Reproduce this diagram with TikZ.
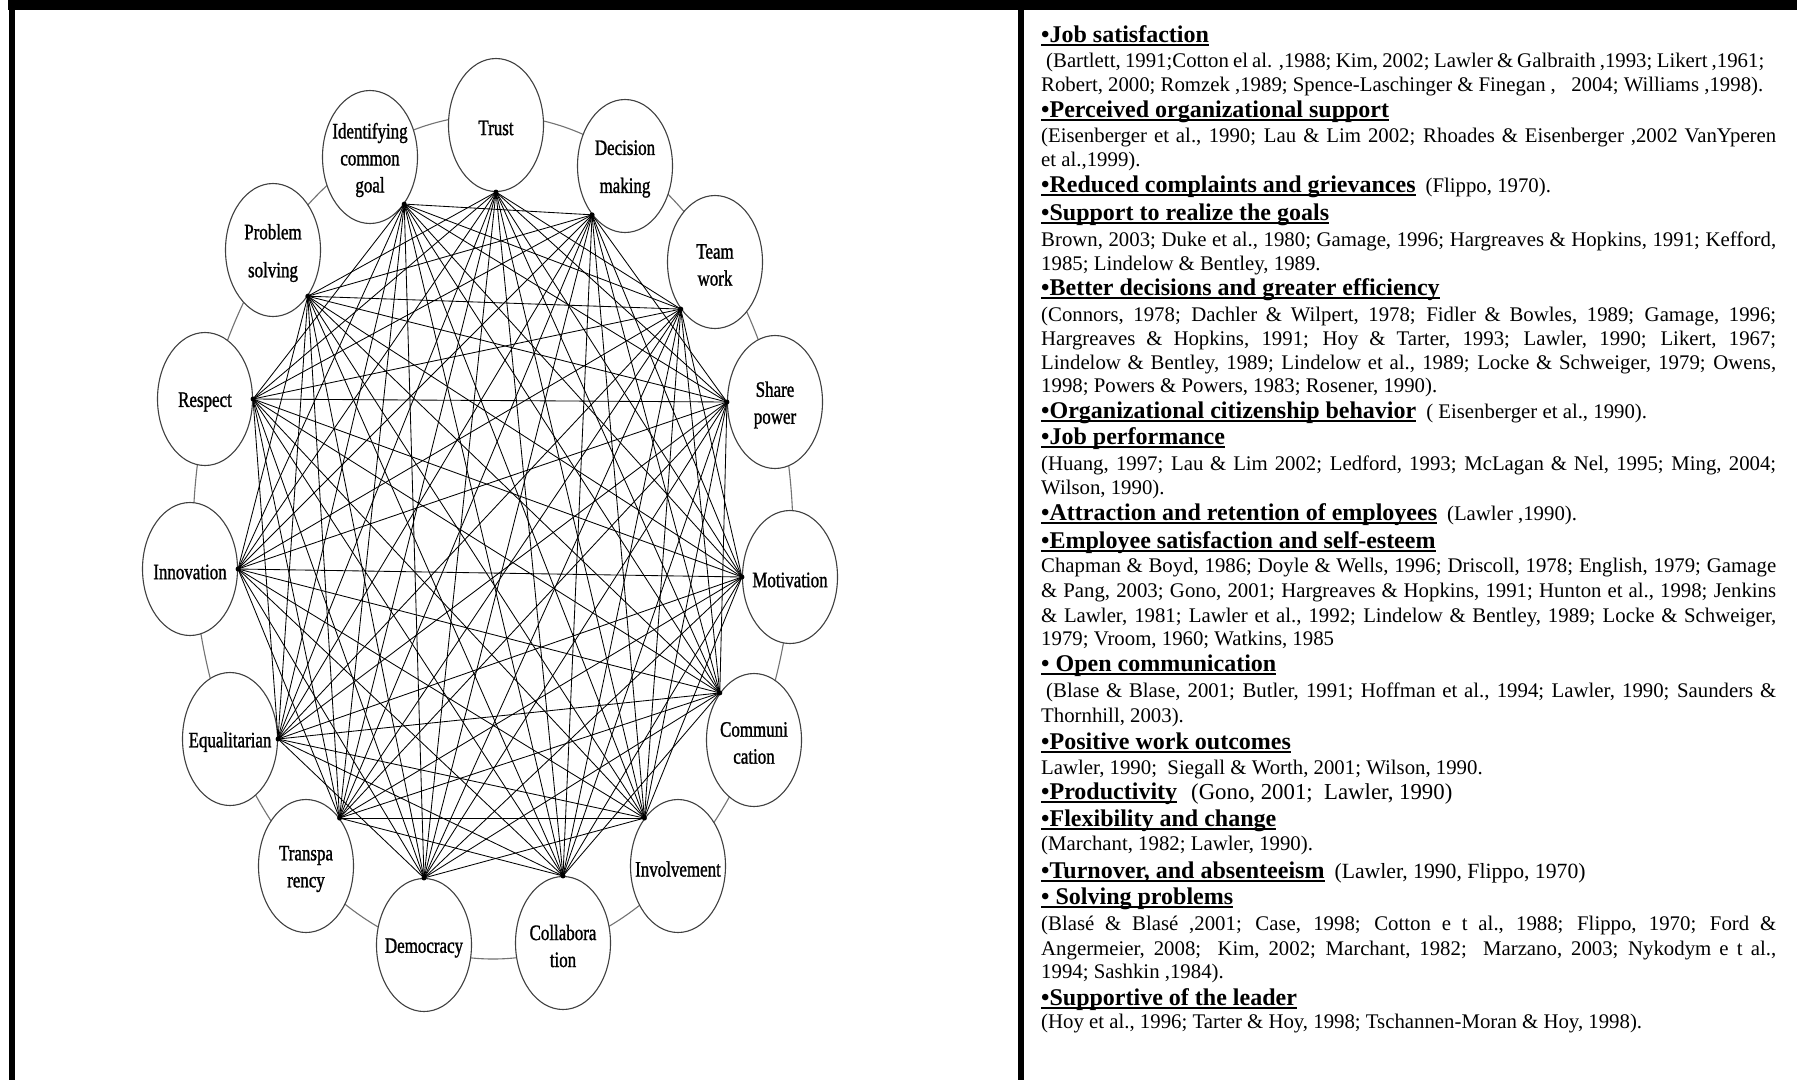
\documentclass[tikz,border=0pt]{standalone}
\usepackage{fontspec}
\setmainfont{Liberation Serif}
\newfontfamily\labf[FakeStretch=0.77,FakeBold=1.2]{Liberation Serif}
\usetikzlibrary{shapes.geometric}
\newsavebox\hbx
\newcommand\hul[1]{\sbox\hbx{#1}\rlap{\rule[-4pt]{\wd\hbx}{2pt}}\usebox\hbx}
\newcommand\hd[1]{{\fontsize{24}{28}\selectfont\bfseries\hul{#1}}}
\newcommand\jl[2]{\makebox[#1][s]{#2}}
\tikzset{
  ell/.style={ellipse, draw=black!75, line width=1.1pt, fill=white, minimum width=95pt, minimum height=133pt, inner sep=0pt},
  lab/.style={font=\labf\fontsize{22}{27}\selectfont, align=center, inner sep=0pt, yshift=-3pt},
  labw/.style={font=\labf\fontsize{22}{38}\selectfont, align=center, inner sep=0pt, yshift=-3pt},
  edgeln/.style={line width=0.85pt, black},
  ringln/.style={draw=black!55, line width=1.1pt},
  txt/.style={anchor=base west, inner sep=0pt, font=\fontsize{20.8}{25}\selectfont},
  frame/.style={fill=black}
}
\begin{document}
\begin{tikzpicture}[x=1pt,y=-1pt]
\useasboundingbox (0,0) rectangle (1797,1080);
\fill[white] (0,0) rectangle (1797,1080);
% frame
\fill[frame] (8,0) rectangle (1797,10);
\fill[frame] (9,0) rectangle (15,1080);
\fill[frame] (1018,0) rectangle (1024,1080);
% ring
\draw[ringln] (493,537) ellipse [x radius=300pt, y radius=422pt];
% ellipses
\node[ell] (trust) at (496,125) {};
\node[ell] (decis) at (625,166) {};
\node[ell] (team) at (715,262) {};
\node[ell] (share) at (775,402) {};
\node[ell] (motiv) at (790,577) {};
\node[ell] (comm) at (754,740) {};
\node[ell] (invol) at (678,866) {};
\node[ell] (coll) at (563,943) {};
\node[ell] (demo) at (424,945) {};
\node[ell] (trans) at (306,866) {};
\node[ell] (equal) at (230,739) {};
\node[ell] (innov) at (190,569) {};
\node[ell] (resp) at (205,399) {};
\node[ell] (prob) at (273,250) {};
\node[ell] (ident) at (370,157) {};
% hubs
\foreach \n/\ang in {trust/-90,decis/-124,team/-126,share/180,motiv/180,comm/126,invol/125,coll/90,demo/90,trans/55,equal/0,innov/0,resp/0,prob/-53,ident/-54}
  {\coordinate (\n-h) at (\n.\ang);}
% edges: every non-adjacent pair
\foreach \a [count=\i] in {trust,decis,team,share,motiv,comm,invol,coll,demo,trans,equal,innov,resp,prob,ident}{
  \foreach \b [count=\j] in {trust,decis,team,share,motiv,comm,invol,coll,demo,trans,equal,innov,resp,prob,ident}{
    \pgfmathtruncatemacro\dd{\j-\i}
    \ifnum\dd>1 \ifnum\dd<14 \draw[edgeln] (\a-h) -- (\b-h); \fi\fi
  }
}
\foreach \n in {trust,decis,team,share,motiv,comm,invol,coll,demo,trans,equal,innov,resp,prob,ident}
  {\fill (\n-h) circle (2.5pt);}
% labels
\node[lab] (trust-l) at (trust) {Trust};
\node[labw] (decis-l) at (decis) {Decision\\making};
\node[lab] (team-l) at (team) {Team\\work};
\node[lab] (share-l) at (share) {Share\\power};
\node[lab] (motiv-l) at (motiv) {Motivation};
\node[lab] (comm-l) at (comm) {Communi\\cation};
\node[lab] (invol-l) at (invol) {Involvement};
\node[lab] (coll-l) at (coll) {Collabora\\tion};
\node[lab] (demo-l) at (demo) {Democracy};
\node[lab] (trans-l) at (trans) {Transpa\\rency};
\node[lab] (equal-l) at (equal) {Equalitarian};
\node[lab] (innov-l) at (innov) {Innovation};
\node[lab] (resp-l) at (resp) {Respect};
\node[labw] (prob-l) at (prob) {Problem\\solving};
\node[lab] (ident-l) at (ident) {Identifying\\common\\goal};
% right column
\node[txt] (t1) at (1041,42) {\hd{•Job satisfaction}};
\node[txt] (t2) at (1046,67) {\jl{718pt}{(Bartlett, 1991;Cotton el al. ,1988; Kim, 2002; Lawler \& Galbraith ,1993; Likert ,1961;}};
\node[txt] (t3) at (1041,91) {\jl{722pt}{Robert, 2000; Romzek ,1989; Spence-Laschinger \& Finegan ,\ \ \ 2004; Williams ,1998).}};
\node[txt] (t4) at (1041,117) {\hd{•Perceived organizational support}};
\node[txt] (t5) at (1041,142) {\jl{735pt}{(Eisenberger et al., 1990; Lau \& Lim 2002; Rhoades \& Eisenberger ,2002 VanYperen}};
\node[txt] (t6) at (1041,166) {et al.,1999).};
\node[txt] (t7) at (1041,192) {\hd{•Reduced complaints and grievances}\hspace{10pt}(Flippo, 1970).};
\node[txt] (t8) at (1041,220) {\hd{•Support to realize the goals}};
\node[txt] (t9) at (1041,246) {\jl{735pt}{Brown, 2003; Duke et al., 1980; Gamage, 1996; Hargreaves \& Hopkins, 1991; Kefford,}};
\node[txt] (t10) at (1041,270) {1985; Lindelow \& Bentley, 1989.};
\node[txt] (t11) at (1041,295) {\hd{•Better decisions and greater efficiency}};
\node[txt] (t12) at (1041,321) {\jl{735pt}{(Connors, 1978; Dachler \& Wilpert, 1978; Fidler \& Bowles, 1989; Gamage, 1996;}};
\node[txt] (t13) at (1041,345) {\jl{735pt}{Hargreaves \& Hopkins, 1991; Hoy \& Tarter, 1993; Lawler, 1990; Likert, 1967;}};
\node[txt] (t14) at (1041,369) {\jl{735pt}{Lindelow \& Bentley, 1989; Lindelow et al., 1989; Locke \& Schweiger, 1979; Owens,}};
\node[txt] (t15) at (1041,392) {1998; Powers \& Powers, 1983; Rosener, 1990).};
\node[txt] (t16) at (1041,418) {\hd{•Organizational citizenship behavior}\hspace{10pt}( Eisenberger et al., 1990).};
\node[txt] (t17) at (1041,444) {\hd{•Job performance}};
\node[txt] (t18) at (1041,470) {\jl{735pt}{(Huang, 1997; Lau \& Lim 2002; Ledford, 1993; McLagan \& Nel, 1995; Ming, 2004;}};
\node[txt] (t19) at (1041,494) {Wilson, 1990).};
\node[txt] (t20) at (1041,520) {\hd{•Attraction and retention of employees}\hspace{10pt}(Lawler ,1990).};
\node[txt] (t21) at (1041,548) {\hd{•Employee satisfaction and self-esteem}};
\node[txt] (t22) at (1041,572) {\jl{735pt}{Chapman \& Boyd, 1986; Doyle \& Wells, 1996; Driscoll, 1978; English, 1979; Gamage}};
\node[txt] (t23) at (1041,597) {\jl{735pt}{\& Pang, 2003; Gono, 2001; Hargreaves \& Hopkins, 1991; Hunton et al., 1998; Jenkins}};
\node[txt] (t24) at (1041,622) {\jl{735pt}{\& Lawler, 1981; Lawler et al., 1992; Lindelow \& Bentley, 1989; Locke \& Schweiger,}};
\node[txt] (t25) at (1041,645) {1979; Vroom, 1960; Watkins, 1985};
\node[txt] (t26) at (1041,671) {\hd{• Open communication}};
\node[txt] (t27) at (1046,697) {\jl{730pt}{(Blase \& Blase, 2001; Butler, 1991; Hoffman et al., 1994; Lawler, 1990; Saunders \&}};
\node[txt] (t28) at (1041,722) {Thornhill, 2003).};
\node[txt] (t29) at (1041,749) {\hd{•Positive work outcomes}};
\node[txt] (t30) at (1041,774) {Lawler, 1990;\ \ Siegall \& Worth, 2001; Wilson, 1990.};
\node[txt] (t31) at (1041,799) {\hd{•Productivity}\hspace{14pt}{\fontsize{22.8}{26}\selectfont(Gono, 2001;\ \ Lawler, 1990)}};
\node[txt] (t32) at (1041,826) {\hd{•Flexibility and change}};
\node[txt] (t33) at (1041,850) {(Marchant, 1982; Lawler, 1990).};
\node[txt] (t34) at (1041,878) {\hd{•Turnover, and absenteeism}\hspace{10pt}{\fontsize{21.7}{26}\selectfont(Lawler, 1990, Flippo, 1970)}};
\node[txt] (t35) at (1041,904) {\hd{• Solving problems}};
\node[txt] (t36) at (1041,930) {\jl{735pt}{(Blasé \& Blasé ,2001; Case, 1998; Cotton e t al., 1988; Flippo, 1970; Ford \&}};
\node[txt] (t37) at (1041,955) {\jl{735pt}{Angermeier, 2008;\ \ Kim, 2002; Marchant, 1982;\ \ Marzano, 2003; Nykodym e t al.,}};
\node[txt] (t38) at (1041,978) {1994; Sashkin ,1984).};
\node[txt] (t39) at (1041,1005) {\hd{•Supportive of the leader}};
\node[txt] (t40) at (1041,1028) {(Hoy et al., 1996; Tarter \& Hoy, 1998; Tschannen-Moran \& Hoy, 1998).};
\end{tikzpicture}
\end{document}
